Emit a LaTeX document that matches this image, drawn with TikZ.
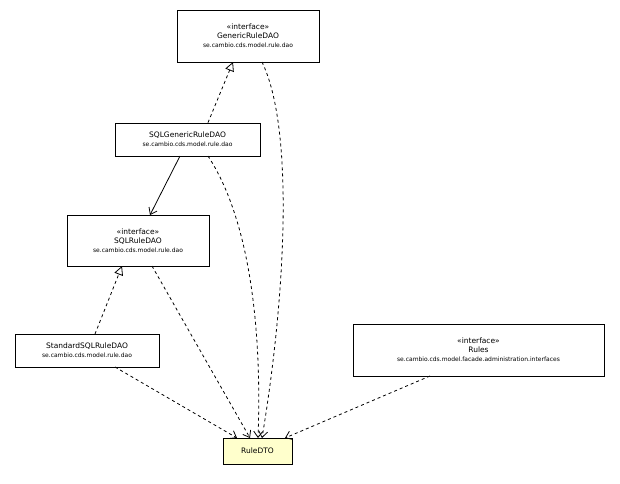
\documentclass[tikz,border=0pt]{standalone}
\usepackage{fontspec}
\setmainfont{DejaVu Sans}
\usetikzlibrary{arrows.meta}
\definecolor{dtofill}{RGB}{255,255,204}
\begin{document}
\begin{tikzpicture}[x=1pt,y=-1pt,
  cls/.style={draw,thick,fill=white,align=center,inner sep=2pt,font=\fontsize{7.5}{9}\selectfont},
  dep/.style={thick,dashed,-{Straight Barb[length=6pt,width=9pt]}},
  real/.style={thick,dashed,-{Triangle[open,length=9pt,width=9pt,fill=white]}},
  assoc/.style={thick,-{Straight Barb[length=6pt,width=9pt]}}]
\useasboundingbox (0,0) rectangle (620,483);
\newcommand{\pk}[1]{{\fontsize{6}{8}\selectfont #1}}
\node[cls,minimum width=142pt,minimum height=52pt] (g) at (248,36) {«interface»\\GenericRuleDAO\\\pk{se.cambio.cds.model.rule.dao}};
\node[cls,minimum width=145pt,minimum height=33pt] (sg) at (187.5,139.5) {SQLGenericRuleDAO\\\pk{se.cambio.cds.model.rule.dao}};
\node[cls,minimum width=142pt,minimum height=51pt] (s) at (138,240.5) {«interface»\\SQLRuleDAO\\\pk{se.cambio.cds.model.rule.dao}};
\node[cls,minimum width=144pt,minimum height=33pt] (st) at (87,350.5) {StandardSQLRuleDAO\\\pk{se.cambio.cds.model.rule.dao}};
\node[cls,minimum width=251pt,minimum height=52pt] (r) at (478.5,350) {«interface»\\Rules\\\pk{se.cambio.cds.model.facade.administration.interfaces}};
\node[cls,fill=dtofill,minimum width=69pt,minimum height=26pt] (d) at (257.5,451) {RuleDTO};
\draw[real] (sg.north -| 208,0) -- (233,62);
\draw[assoc] (180,156) -- (150,215);
\draw[real] (95,334) -- (122,266);
\draw[dep] (262,62) .. controls (295,130) and (285,300) .. (262,438);
\draw[dep] (208,156) .. controls (250,220) and (262,330) .. (258,438);
\draw[dep] (152,266) -- (250,438);
\draw[dep] (115,367) -- (237,438);
\draw[dep] (430,376) -- (285,438);
\end{tikzpicture}
\end{document}
